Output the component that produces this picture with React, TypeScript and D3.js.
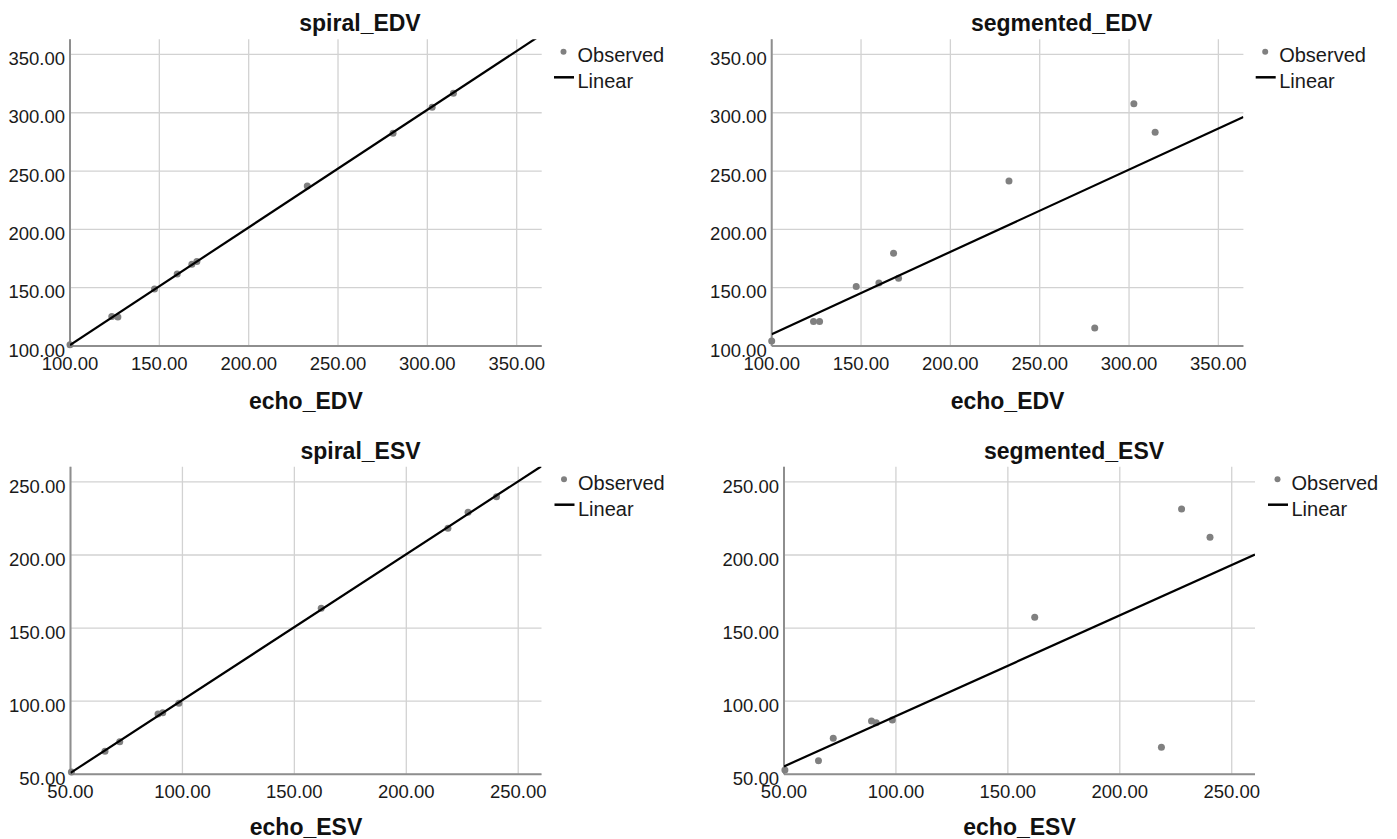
import React from "react";
import * as d3 from "d3";

// ---- data ----
const echoEDV = [100, 123.4, 126.8, 147.3, 160, 168.2, 171, 232.8, 280.8, 302.7, 314.6];
const spiralEDV = [101, 125.3, 124.8, 148.8, 161.8, 170.2, 172.4, 237.2, 282.5, 304.8, 316.7];
const segmentedEDV = [104.3, 121, 121, 151, 154, 179.5, 158, 241.5, 115.5, 307.8, 283.3];

const echoESV = [50.4, 65.4, 72, 89.1, 91.2, 98.4, 162, 218.6, 227.6, 240.3];
const spiralESV = [51.5, 65.8, 72.3, 91.2, 92.1, 98.6, 163.5, 218.3, 229.2, 239.9];
const segmentedESV = [52.9, 59.3, 74.6, 86.5, 85.3, 87.1, 157.4, 68.5, 231.5, 212.1];

const edvTicks = [100, 150, 200, 250, 300, 350];
const esvTicks = [50, 100, 150, 200, 250];
const edvXDomain = [100, 364];
const edvYDomain = [100, 363];
const esvDomain = [50, 260.4];

const legendLabels = ["Observed", "Linear"];

const panels = [
  { id: "p1", title: "spiral_EDV", xLabel: "echo_EDV", xs: echoEDV, ys: spiralEDV, dx: edvXDomain, dy: edvYDomain, ticks: edvTicks, left: 70, top: 39.3, width: 471.7, height: 306.7, labelOff: 63 },
  { id: "p2", title: "segmented_EDV", xLabel: "echo_EDV", xs: echoEDV, ys: segmentedEDV, dx: edvXDomain, dy: edvYDomain, ticks: edvTicks, left: 771.7, top: 39.3, width: 471.7, height: 306.7, labelOff: 63 },
  { id: "p3", title: "spiral_ESV", xLabel: "echo_ESV", xs: echoESV, ys: spiralESV, dx: esvDomain, dy: esvDomain, ticks: esvTicks, left: 70.5, top: 466.7, width: 471, height: 307.6, labelOff: 61 },
  { id: "p4", title: "segmented_ESV", xLabel: "echo_ESV", xs: echoESV, ys: segmentedESV, dx: esvDomain, dy: esvDomain, ticks: esvTicks, left: 784, top: 466.7, width: 471, height: 307.6, labelOff: 61 },
];

const FONT = "'Liberation Sans', Arial, Helvetica, sans-serif";

function fit(xs: number[], ys: number[]) {
  const mx = d3.mean(xs)!;
  const my = d3.mean(ys)!;
  let sxy = 0, sxx = 0;
  xs.forEach((x, i) => {
    sxy += (x - mx) * (ys[i] - my);
    sxx += (x - mx) * (x - mx);
  });
  const b = sxy / sxx;
  return { a: my - b * mx, b };
}

function Panel({ p }: { p: any }) {
  const x = d3.scaleLinear().domain(p.dx).range([p.left, p.left + p.width]);
  const y = d3.scaleLinear().domain(p.dy).range([p.top + p.height, p.top]);
  const { a, b } = fit(p.xs, p.ys);
  const lineGen = d3.line<number>().x((v) => x(v)).y((v) => y(a + b * v));
  const bottom = p.top + p.height;
  const right = p.left + p.width;
  return (
    <g>
      <defs>
        <clipPath id={"clip-" + p.id}>
          <rect x={p.left} y={p.top} width={p.width} height={p.height} />
        </clipPath>
      </defs>
      {/* grid */}
      {p.ticks.map((t: number) => (
        <line key={"gx" + t} x1={x(t)} x2={x(t)} y1={p.top} y2={bottom} stroke="#d2d2d2" strokeWidth={1.3} />
      ))}
      {p.ticks.map((t: number) => (
        <line key={"gy" + t} x1={p.left} x2={right} y1={y(t)} y2={y(t)} stroke="#d2d2d2" strokeWidth={1.3} />
      ))}
      {/* axes */}
      <line x1={p.left} x2={p.left} y1={p.top} y2={bottom} stroke="#8e8e8e" strokeWidth={2} />
      <line x1={p.left} x2={right} y1={bottom} y2={bottom} stroke="#8e8e8e" strokeWidth={2} />
      {/* tick labels */}
      {p.ticks.map((t: number) => (
        <text key={"ty" + t} x={p.left - 5} y={y(t) + 4} dy="0.36em" textAnchor="end" fontSize={18.5} fontFamily={FONT} fill="#1a1a1a">
          {t.toFixed(2)}
        </text>
      ))}
      {p.ticks.map((t: number) => (
        <text key={"tx" + t} x={x(t)} y={bottom + 24} textAnchor="middle" fontSize={18.5} fontFamily={FONT} fill="#1a1a1a">
          {t.toFixed(2)}
        </text>
      ))}
      {/* points */}
      {p.xs.map((v: number, i: number) => (
        <circle key={"pt" + i} cx={x(v)} cy={y(p.ys[i])} r={3.5} fill="#808080" />
      ))}
      {/* fit line */}
      <path d={lineGen([p.dx[0], p.dx[1]]) || ""} stroke="#000" strokeWidth={2.2} fill="none" clipPath={`url(#clip-${p.id})`} />
      {/* title */}
      <text x={p.left + 290} y={p.top - 8.2} textAnchor="middle" fontSize={23} fontWeight="bold" fontFamily={FONT} fill="#111">
        {p.title}
      </text>
      {/* x axis title */}
      <text x={p.left + p.width / 2} y={bottom + p.labelOff} textAnchor="middle" fontSize={23} fontWeight="bold" fontFamily={FONT} fill="#111">
        {p.xLabel}
      </text>
      {/* legend */}
      <circle cx={p.left + 493.5} cy={p.top + 12.5} r={3} fill="#808080" />
      <text x={p.left + 507.5} y={p.top + 23} fontSize={20} fontFamily={FONT} fill="#1a1a1a">
        {legendLabels[0]}
      </text>
      <line x1={p.left + 484} x2={p.left + 504} y1={p.top + 38} y2={p.top + 38} stroke="#000" strokeWidth={2.5} />
      <text x={p.left + 507.5} y={p.top + 49} fontSize={20} fontFamily={FONT} fill="#1a1a1a">
        {legendLabels[1]}
      </text>
    </g>
  );
}

export default function App() {
  return (
    <svg
      width={1397}
      height={839}
      style={{ position: "absolute", left: 0, top: 0, background: "#fff" }}
    >
      <rect x={0} y={0} width={1397} height={839} fill="#fff" />
      {panels.map((p) => (
        <Panel key={p.id} p={p} />
      ))}
    </svg>
  );
}
